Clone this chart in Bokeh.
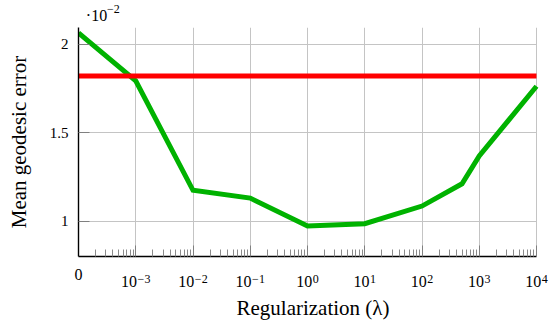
import math
from bokeh.plotting import figure
from bokeh.models import Range1d, FixedTicker, LogAxis, CustomJSTickFormatter
from bokeh.embed import file_html
from bokeh.resources import INLINE

# ---------------- data (errors in units of 1e-2) ----------------
lam = [0, 1e-3, 1e-2, 1e-1, 1e0, 1e1, 1e2, 5e2, 1e3, 1e4]
err = [2.065, 1.795, 1.176, 1.132, 0.974, 0.987, 1.087, 1.213, 1.37, 1.764]
baseline_err = 1.822
scale_base = "\u00b710"
scale_exp = "\u22122"

x_ticks = [0, 1e-3, 1e-2, 1e-1, 1e0, 1e1, 1e2, 1e3, 1e4]
x_tick_base = ["0", "10", "10", "10", "10", "10", "10", "10", "10"]
x_tick_exp = ["", "\u22123", "\u22122", "\u22121", "0", "1", "2", "3", "4"]
y_ticks = [1, 1.5, 2]
y_tick_labels = ["1", "1.5", "2"]

x_label = "Regularization (\u03bb)"
y_label = "Mean geodesic error"

# ---------------- layout / style ----------------
ZERO_POS = 1e-4          # where lambda = 0 is drawn on the log axis
X_MIN, X_MAX = 1e-4, 1e4
Y_MIN, Y_MAX = 0.802, 2.096
W, H = 555, 322
B_LEFT, B_RIGHT, B_TOP, B_BOTTOM = 78, 8, 27, 66
DATA_RIGHT_PX = 536                      # pixel where X_MAX sits
DEC = math.log10(X_MAX) - math.log10(X_MIN)
D = (DATA_RIGHT_PX - B_LEFT) / DEC       # pixels per decade
X_VIEW_MAX = 10 ** (math.log10(X_MIN) + (W - B_LEFT - B_RIGHT) / D)

FONT = "Liberation Serif"
BASE_FS, EXP_FS = 16, 12
GREEN = "#00b200"
RED = "#ff0000"
GRID = "#c4c4c4"


def xpos(v):
    return v if v > 0 else ZERO_POS


def w(s, fs):
    cw = {"\u2212": 0.564, "\u00b7": 0.25}
    return sum(cw.get(c, 0.5) * fs for c in s)


def shift(v, dpx):
    return 10 ** (math.log10(v) + dpx / D)


def label_formatter(pos, labs):
    return CustomJSTickFormatter(args=dict(pos=pos, labs=labs), code="""
        let best = 0, bd = Infinity;
        for (let i = 0; i < pos.length; i++) {
            const d = Math.abs(Math.log(pos[i]) - Math.log(tick));
            if (d < bd) { bd = d; best = i; }
        }
        return labs[best];""")


def text_axis(pos, labs, fs, standoff, place, axis_label=None, label_standoff=0):
    ax = LogAxis(ticker=FixedTicker(ticks=pos, minor_ticks=[]),
                 formatter=label_formatter(pos, labs))
    ax.axis_line_color = None
    ax.major_tick_line_color = None
    ax.minor_tick_line_color = None
    ax.major_tick_in = 0
    ax.major_tick_out = 0
    ax.minor_tick_in = 0
    ax.minor_tick_out = 0
    ax.major_label_standoff = standoff
    ax.major_label_text_font = FONT
    ax.major_label_text_font_size = f"{fs}px"
    ax.major_label_text_color = "black"
    if axis_label:
        ax.axis_label = axis_label
        ax.axis_label_text_font = FONT
        ax.axis_label_text_font_size = "21px"
        ax.axis_label_text_font_style = "normal"
        ax.axis_label_text_color = "black"
        ax.axis_label_standoff = label_standoff
    p.add_layout(ax, place)
    return ax


p = figure(width=W, height=H, x_axis_type="log",
           x_range=Range1d(X_MIN, X_VIEW_MAX), y_range=Range1d(Y_MIN, Y_MAX),
           output_backend="svg", toolbar_location=None,
           min_border_left=B_LEFT, min_border_right=B_RIGHT,
           min_border_top=B_TOP, min_border_bottom=B_BOTTOM)
p.outline_line_color = None
p.background_fill_color = "white"
p.border_fill_color = "white"

major = [xpos(t) for t in x_ticks]
minor = [k * 10.0 ** d for d in range(-4, 4) for k in range(2, 10)]
yticker = FixedTicker(ticks=y_ticks, minor_ticks=[])

p.xaxis.ticker = FixedTicker(ticks=major, minor_ticks=minor)
p.xaxis.bounds = (X_MIN, X_MAX)
p.xaxis.formatter = CustomJSTickFormatter(code="return ''")
p.xaxis.major_label_text_font_size = "1px"
p.xaxis.major_label_standoff = 0
p.yaxis.ticker = yticker
p.yaxis.major_label_overrides = dict(zip(y_ticks, y_tick_labels))

p.xgrid.ticker = FixedTicker(ticks=major, minor_ticks=[])
p.ygrid.ticker = yticker
p.ygrid.cross_bounds = (X_MIN, X_MAX)
for g in (p.xgrid, p.ygrid):
    g.grid_line_color = GRID
    g.grid_line_width = 1

for ax in (p.xaxis, p.yaxis):
    ax.axis_line_color = "black"
    ax.axis_line_width = 1.4
    ax.major_tick_in = 11
    ax.major_tick_out = 0
    ax.major_tick_line_color = "#808080"
    ax.minor_tick_in = 7
    ax.minor_tick_out = 0
    ax.minor_tick_line_color = "#8a8a8a"
    ax.major_label_text_font = FONT
    ax.major_label_text_color = "black"

p.yaxis.major_label_text_font_size = "15px"
p.yaxis.major_label_standoff = 10
p.yaxis.axis_label = y_label
p.yaxis.axis_label_standoff = 16
p.yaxis.axis_label_text_font = FONT
p.yaxis.axis_label_text_font_size = "21px"
p.yaxis.axis_label_text_font_style = "normal"
p.yaxis.axis_label_text_color = "black"

# ---------------- x tick labels: "0", then 10 + raised exponent ----------------
zero_pos, zero_lab = [], []
exp_pos, exp_lab = [], []
base_pos, base_lab = [], []
for m, b, e in zip(major, x_tick_base, x_tick_exp):
    if not e:
        zero_pos.append(m)
        zero_lab.append(b)
        continue
    wb, we = w(b, BASE_FS), w(e, EXP_FS)
    left = -(wb + we + 0.5) / 2
    base_pos.append(shift(m, left + wb / 2))
    base_lab.append(b)
    exp_pos.append(shift(m, left + wb + 0.5 + we / 2))
    exp_lab.append(e)

text_axis(zero_pos, zero_lab, BASE_FS, 12, "below")
text_axis(exp_pos, exp_lab, EXP_FS, -8, "below")
text_axis(base_pos, base_lab, BASE_FS, -10, "below", axis_label=x_label, label_standoff=6)

# ---------------- scale factor ·10^-2 above the frame ----------------
sb = w(scale_base, BASE_FS)
se = w(scale_exp, EXP_FS)
text_axis([shift(X_MIN, 8 + sb / 2)], [scale_base], BASE_FS, 4, "above")
text_axis([shift(X_MIN, 8 + sb + 0.5 + se / 2)], [scale_exp], EXP_FS, -9, "above")

# ---------------- data lines ----------------
xs = [xpos(v) for v in lam]
p.line(xs, err, line_color=GREEN, line_width=5, line_join="miter")
p.line([xs[0], xs[-1]], [baseline_err, baseline_err], line_color=RED, line_width=5)

open("out.html", "w").write(file_html(p, INLINE))
